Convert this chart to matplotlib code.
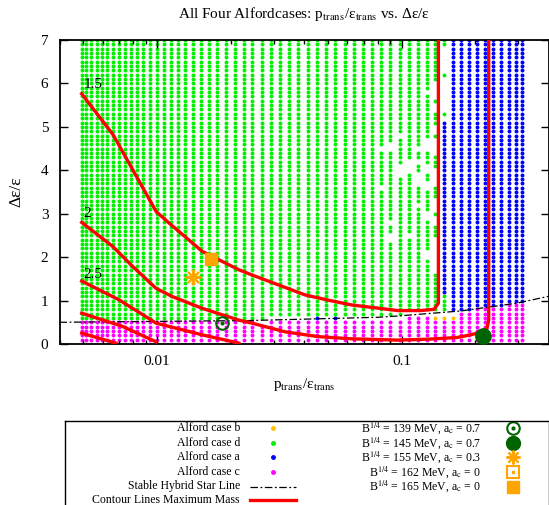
import matplotlib.pyplot as plt
import numpy as np

plt.rcParams['font.family'] = ['Liberation Serif', 'DejaVu Serif']
plt.rcParams['mathtext.fontset'] = 'stix'

# Columns of the parameter scan (p_trans/eps_trans)
p_cols = [0.004927, 0.005152, 0.005398, 0.005666, 0.005955, 0.006267, 0.006612,
          0.006982, 0.007382, 0.007822, 0.008297, 0.008813, 0.009385, 0.01,
          0.01068, 0.01141, 0.01220, 0.01307, 0.01402, 0.01508, 0.01626, 0.01765,
          0.01919, 0.02076, 0.02265, 0.02447, 0.02687, 0.02922, 0.03190, 0.03480,
          0.03785, 0.04128, 0.04521, 0.04931, 0.05363, 0.05855, 0.06370, 0.06946,
          0.07577, 0.08241, 0.08982, 0.09815, 0.1068, 0.1161, 0.1264, 0.1374,
          0.1490, 0.1615, 0.1747, 0.1888, 0.2034, 0.2198, 0.2368, 0.2545, 0.2735,
          0.2928, 0.3116]
# rows of the scan (delta eps / eps)
de_rows = [round(0.1 * i, 1) for i in range(1, 71)]

# stable hybrid star line
line_p = [0.004, 0.0237, 0.0799, 0.0963, 0.174, 0.2955, 0.4]
line_de = [0.50, 0.54, 0.615, 0.645, 0.76, 0.94, 1.10]

# no result on the line itself in this p range
band_p = (0.025, 0.165)

# where case a (blue) starts
blue_p = 0.155
blue_p_mid = 0.145            # one column earlier between these rows
blue_mid_de = (1.15, 5.15)

# case b points
case_b_p = [0.1374, 0.1490, 0.1615]
case_b_de = [0.6, 0.6, 0.6]
# lone case a points on the line
case_a_p = [0.04521, 0.05363]
case_a_de = [0.6, 0.6]

# missing scan points (no result)
gap_cols = [0.08241, 0.08982, 0.09815, 0.1068, 0.1161, 0.1264, 0.1374, 0.1490]
gap_rows = [
    [4.5, 3.6],
    [4.6, 4.5, 2.8, 2.5, 2.4],
    [4.8, 4.1, 4.0, 3.9],
    [4.2, 4.1, 4.0, 2.5],
    [4.5, 4.2, 3.9, 3.8, 3.7, 3.2],
    [5.8, 4.7, 4.6, 4.5, 4.1, 4.0, 3.7, 3.6, 3.0, 2.9, 2.1, 2.0],
    [6.0, 5.9, 5.8, 5.7, 5.5, 5.4, 5.0, 4.9, 4.7, 4.6, 4.5, 4.4, 4.0, 3.9, 3.8,
     3.7, 3.3, 3.2, 3.1, 2.9, 2.8, 2.4, 2.3, 2.2, 2.1, 2.0, 1.9, 1.8, 1.7],
    [6.8, 6.7, 6.6, 6.5, 6.4, 6.3, 6.1, 6.0, 5.9, 5.8, 5.7, 5.6, 5.5, 5.4, 5.2],
]

# contour lines of maximum mass
c15_p = [0.00493, 0.00662, 0.00993, 0.01124, 0.01534, 0.02161, 0.02446, 0.03141,
         0.04030, 0.05010, 0.06229, 0.09634, 0.1198, 0.1358, 0.1413, 0.1413]
c15_de = [5.76, 4.82, 3.05, 2.78, 2.13, 1.71, 1.59, 1.36, 1.13, 1.01, 0.90, 0.77,
          0.77, 0.80, 0.94, 7.0]
c20_p = [0.00493, 0.00662, 0.00798, 0.00993, 0.01159, 0.01534, 0.02161, 0.02446,
         0.03343, 0.04562, 0.06229, 0.09634, 0.1275, 0.1687, 0.1910, 0.2066,
         0.2233, 0.2268, 0.2268]
c20_de = [2.80, 2.24, 1.78, 1.28, 1.09, 0.82, 0.55, 0.48, 0.28, 0.17, 0.12, 0.09,
          0.11, 0.15, 0.21, 0.26, 0.36, 0.55, 7.0]
c25_p = [0.00493, 0.00704, 0.00993, 0.01534, 0.02161]
c25_de = [1.45, 1.01, 0.48, 0.21, 0.02]
c30_p = [0.00493, 0.00720, 0.00993]
c30_de = [0.71, 0.41, 0.05]
c35_p = [0.00493, 0.00680]
c35_de = [0.25, 0.02]
c_labels = ['1.5', '2', '2.5']
c_label_p = [0.0050, 0.0050, 0.0050]
c_label_de = [5.97, 3.01, 1.59]

# special parameter sets
m139 = (0.01848, 0.49)
m145 = (0.2151, 0.19)
m155 = (0.01411, 1.54)
m165 = (0.0166, 1.95)


def is_listed(p, d, ps, ds):
    return any(abs(p - a) < 1e-6 and abs(d - b) < 1e-6 for a, b in zip(ps, ds))


# sort scan points into the four cases
green, blue, magenta = [], [], []
log_line_p = np.log(line_p)
for p in p_cols:
    lim = np.interp(np.log(p), log_line_p, line_de)
    missing = []
    for gc, gr in zip(gap_cols, gap_rows):
        if abs(p - gc) < 1e-6:
            missing = gr
    for d in de_rows:
        if is_listed(p, d, case_b_p, case_b_de) or is_listed(p, d, case_a_p, case_a_de):
            continue
        if any(abs(d - m) < 1e-6 for m in missing):
            continue
        if band_p[0] < p < band_p[1] and abs(d - lim) <= 0.05:
            continue
        if d < lim:
            magenta.append((p, d))
        elif p > blue_p or (p > blue_p_mid and blue_mid_de[0] < d < blue_mid_de[1]):
            blue.append((p, d))
        else:
            green.append((p, d))
blue += list(zip(case_a_p, case_a_de))

fig = plt.figure(figsize=(5.49, 5.05), dpi=100)
ax = fig.add_axes([59.5 / 549, 1 - 344 / 505, 489.5 / 549, 304 / 505])

dot_s = 8
for pts, col in [(green, '#00f000'), (blue, '#0000ff'), (magenta, '#ff00ff')]:
    arr = np.array(pts)
    ax.scatter(arr[:, 0], arr[:, 1], s=dot_s, c=col, linewidths=0, zorder=1)
ax.scatter(case_b_p, case_b_de, s=dot_s, c='#ffc000', linewidths=0, zorder=1)

ax.plot(line_p, line_de, color='black', lw=0.9, dashes=[6, 2, 1.5, 2], zorder=2)

for cp, cd in [(c15_p, c15_de), (c20_p, c20_de), (c25_p, c25_de), (c30_p, c30_de), (c35_p, c35_de)]:
    ax.plot(cp, cd, color='#ff0000', lw=2.4, zorder=3)
for lab, lp, ld in zip(c_labels, c_label_p, c_label_de):
    ax.text(lp, ld, lab, fontsize=11, ha='left', va='center', zorder=4)

ax.plot(*m139, marker='o', ms=9, mfc='none', mec='#006400', mew=1.5, zorder=5)
ax.plot(*m139, marker='o', ms=2, color='#006400', zorder=5)
ax.plot(*m145, marker='o', ms=11, color='#006400', zorder=5)
ax.plot(*m155, marker=(8, 2, 0), ms=11, color='#ffa500', mew=1.5, zorder=5)
ax.plot(*m165, marker='s', ms=9, color='#ffa500', zorder=5)

ax.set_xscale('log')
ax.set_xlim(0.004, 0.4)
ax.set_ylim(0, 7)
ax.set_xticks([0.01, 0.1])
ax.set_xticklabels(['0.01', '0.1'])
ax.set_yticks(range(8))
ax.tick_params(which='both', direction='in', top=True, right=True, labelsize=11, width=1)
ax.tick_params(which='major', length=6, pad=8)
ax.tick_params(which='minor', length=3)
for s in ax.spines.values():
    s.set_linewidth(1.3)

ax.set_title(r'All Four Alfordcases: p$_{\rm trans}$/ε$_{\rm trans}$ vs. Δε/ε', fontsize=11, pad=16)
ax.set_xlabel(r'p$_{\rm trans}$/ε$_{\rm trans}$', fontsize=11, labelpad=6)
ax.set_ylabel('Δε/ε', fontsize=12.5, labelpad=12)

# legend box drawn by hand, gnuplot style
lg = fig.add_axes([65 / 549, 0, 484 / 549, 84 / 505])
lg.set_xlim(65, 549)
lg.set_ylim(505, 421)
lg.set_xticks([])
lg.set_yticks([])
lg.spines['bottom'].set_visible(False)
for s in lg.spines.values():
    s.set_linewidth(1.0)

rows_y = [428.3, 442.7, 457.3, 472, 486.5, 500]
left_labels = ['Alford case b', 'Alford case d', 'Alford case a', 'Alford case c',
               'Stable Hybrid Star Line', 'Contour Lines Maximum Mass']
right_labels = [r'B$^{1/4}$ = 139 MeV, a$_{\rm c}$ = 0.7', r'B$^{1/4}$ = 145 MeV, a$_{\rm c}$ = 0.7',
                r'B$^{1/4}$ = 155 MeV, a$_{\rm c}$ = 0.3', r'B$^{1/4}$ = 162 MeV, a$_{\rm c}$ = 0',
                r'B$^{1/4}$ = 165 MeV, a$_{\rm c}$ = 0']
for y, t in zip(rows_y, left_labels):
    lg.text(240, y, t, ha='right', va='center', fontsize=8.5)
for y, t in zip(rows_y, right_labels):
    lg.text(481, y, t, ha='right', va='center', fontsize=8.5)
for y, col in zip(rows_y[:4], ['#ffc000', '#00f000', '#0000ff', '#ff00ff']):
    lg.plot(273, y, 'o', ms=2.5, color=col)
lg.plot([250, 296], [rows_y[4]] * 2, color='black', lw=0.9, dashes=[6, 2, 1.5, 2])
lg.plot([250, 296], [rows_y[5]] * 2, color='#ff0000', lw=2.4)
lg.plot(513, rows_y[0], marker='o', ms=9, mfc='none', mec='#006400', mew=1.5)
lg.plot(513, rows_y[0], marker='o', ms=2, color='#006400')
lg.plot(513, rows_y[1], marker='o', ms=10, color='#006400')
lg.plot(513, rows_y[2], marker=(8, 2, 0), ms=10, color='#ffa500', mew=1.5)
lg.plot(513, rows_y[3], marker='s', ms=9, mfc='none', mec='#ffa500', mew=1.5)
lg.plot(513, rows_y[3], marker='s', ms=2, color='#ffa500')
lg.plot(513, rows_y[4], marker='s', ms=9, color='#ffa500')

fig.savefig('out.png', dpi=100)
